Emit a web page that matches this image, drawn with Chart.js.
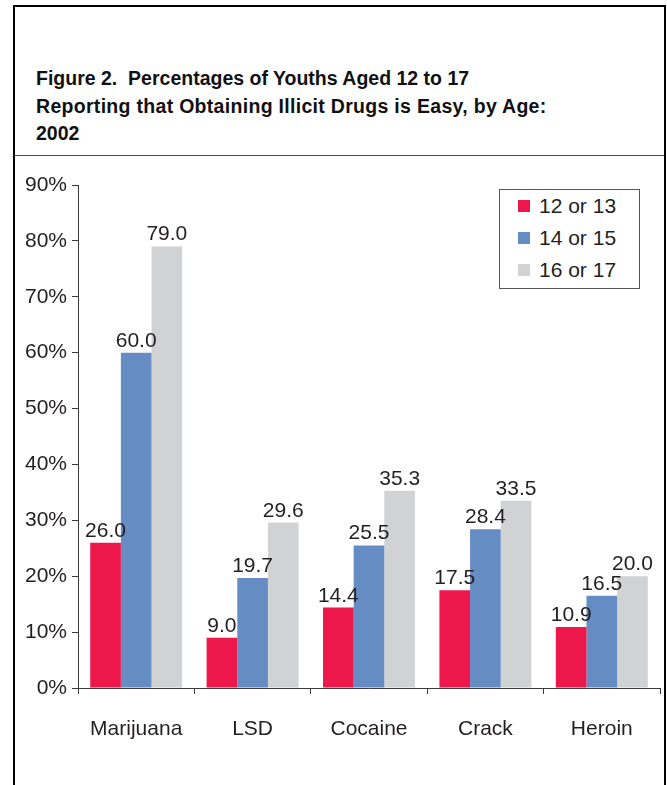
<!DOCTYPE html>
<html>
<head>
<meta charset="utf-8">
<script src="https://cdn.jsdelivr.net/npm/chart.js@4/dist/chart.umd.min.js"></script>
<style>
  html, body { margin: 0; padding: 0; background: #fff; }
  body { width: 667px; height: 785px; position: relative; overflow: hidden; }
  #frame { position: absolute; left: 13px; top: 5px; width: 649px; height: 790px;
           border-left: 2px solid #000; border-top: 2px solid #000; border-right: 2px solid #000; }
  #sep { position: absolute; left: 15px; top: 155px; width: 649px; height: 1px; background: #4a4a4a; }
  #title { position: absolute; left: 36px; top: 65px; width: 620px;
           font-family: "Liberation Sans", Arial, sans-serif; font-weight: bold;
           font-size: 19.5px; line-height: 27.5px; color: #111; }
  #title .l2 { letter-spacing: 0.3px; }
  #wrap { position: absolute; left: 15px; top: 156px; width: 648px; height: 629px; }
  #legend { position: absolute; left: 499px; top: 189px; width: 139px; height: 98px;
            border: 1px solid #555; background: #fff; }
  .lg-row { position: absolute; left: 0; height: 24px; width: 139px; }
  .lg-sw { position: absolute; left: 18px; top: 6px; width: 12px; height: 12px; }
  .lg-tx { position: absolute; left: 39px; top: 0; font-family: "Liberation Sans", Arial, sans-serif;
           font-size: 21px; line-height: 24px; color: #231F20; white-space: nowrap; }
</style>
</head>
<body>
<div id="frame"></div>
<div id="sep"></div>
<div id="title">Figure 2.&nbsp; Percentages of Youths Aged 12 to 17<br><span class="l2">Reporting that Obtaining Illicit Drugs is Easy, by Age:</span><br>2002</div>
<div id="wrap"><canvas id="c" width="648" height="629"></canvas></div>
<div id="legend"></div>
<script>
const categories = ['Marijuana', 'LSD', 'Cocaine', 'Crack', 'Heroin'];
const seriesNames = ['12 or 13', '14 or 15', '16 or 17'];
const age12to13 = [26.0, 9.0, 14.4, 17.5, 10.9];
const age14to15 = [60.0, 19.7, 25.5, 28.4, 16.5];
const age16to17 = [79.0, 29.6, 35.3, 33.5, 20.0];
const yTickLabels = ['0%', '10%', '20%', '30%', '40%', '50%', '60%', '70%', '80%', '90%'];
const seriesColors = ['#EE174B', '#668CC4', '#D1D2D4'];

const seriesValues = [age12to13, age14to15, age16to17];
const FONT = '"Liberation Sans", Arial, sans-serif';

// HTML legend built from the series arrays
const legendEl = document.getElementById('legend');
seriesNames.forEach((name, i) => {
  const row = document.createElement('div');
  row.className = 'lg-row';
  row.style.top = (4 + i * 32) + 'px';
  const sw = document.createElement('div');
  sw.className = 'lg-sw';
  sw.style.background = seriesColors[i];
  const tx = document.createElement('div');
  tx.className = 'lg-tx';
  tx.textContent = name;
  row.appendChild(sw); row.appendChild(tx);
  legendEl.appendChild(row);
});

const valueLabels = {
  id: 'valueLabels',
  afterDatasetsDraw(chart) {
    const ctx = chart.ctx;
    ctx.save();
    ctx.font = '21px ' + FONT;
    ctx.fillStyle = '#231F20';
    ctx.textAlign = 'center';
    ctx.textBaseline = 'alphabetic';
    chart.data.datasets.forEach((ds, di) => {
      const meta = chart.getDatasetMeta(di);
      meta.data.forEach((el, i) => {
        ctx.fillText(ds.data[i].toFixed(1), el.x, el.y - 6);
      });
    });
    ctx.restore();
  }
};

new Chart(document.getElementById('c'), {
  type: 'bar',
  data: {
    labels: categories,
    datasets: seriesValues.map((vals, i) => ({
      label: seriesNames[i],
      data: vals,
      backgroundColor: seriesColors[i],
      borderWidth: 0,
      categoryPercentage: 0.79,
      barPercentage: 1.0
    }))
  },
  options: {
    responsive: false,
    devicePixelRatio: 1,
    animation: false,
    layout: { padding: { top: 29, right: 3, left: 0, bottom: 0 } },
    plugins: { legend: { display: false }, tooltip: { enabled: false }, title: { display: false } },
    scales: {
      x: {
        grid: { display: true, drawOnChartArea: false, drawTicks: true, tickLength: 6, color: '#3a3a3a', offset: true, lineWidth: 1 },
        border: { display: true, color: '#3a3a3a', width: 1 },
        ticks: { color: '#231F20', font: { family: FONT, size: 21 }, padding: 23, maxRotation: 0 },
        afterFit(s) { s.height = 97; }
      },
      y: {
        min: 0, max: 90,
        grid: { display: true, drawOnChartArea: false, drawTicks: true, tickLength: 6, color: '#3a3a3a', lineWidth: 1 },
        border: { display: true, color: '#3a3a3a', width: 1 },
        ticks: {
          stepSize: 10,
          color: '#231F20',
          font: { family: FONT, size: 21 },
          padding: 5,
          callback: (v, idx) => yTickLabels[idx]
        },
        afterFit(s) { s.width = 63; }
      }
    }
  },
  plugins: [valueLabels]
});
</script>
</body>
</html>
